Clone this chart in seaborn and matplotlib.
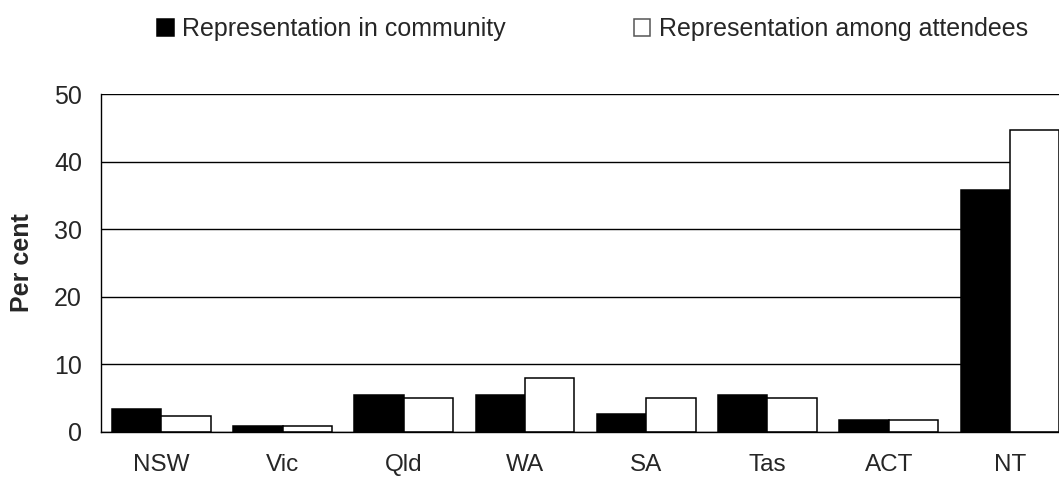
import matplotlib
matplotlib.use("Agg")
import matplotlib.pyplot as plt
import seaborn as sns
import pandas as pd
import numpy as np

# Share of each state/territory, per cent
states = ["NSW", "Vic", "Qld", "WA", "SA", "Tas", "ACT", "NT"]
community = [3.3, 0.9, 5.4, 5.4, 2.7, 5.4, 1.8, 35.8]
attendees = [2.4, 0.9, 5.0, 8.0, 5.0, 5.0, 1.8, 44.7]
series_names = ["Representation in community", "Representation among attendees"]
y_ticks = [0, 10, 20, 30, 40, 50]

df = pd.DataFrame({
    "state": states * 2,
    "series": [series_names[0]] * len(states) + [series_names[1]] * len(states),
    "value": community + attendees,
})

sns.set_style("white")
plt.rcParams["font.family"] = ["Liberation Sans", "DejaVu Sans"]

fig = plt.figure(figsize=(10.59, 4.79), dpi=100)
ax = fig.add_axes([0.0951, 0.0987, 0.9158, 0.7043])

sns.barplot(
    data=df, x="state", y="value", hue="series", order=states,
    hue_order=series_names, palette=["black", "white"],
    edgecolor="black", linewidth=1.1, width=0.815, dodge=True,
    ax=ax, legend=True,
)

ax.set_ylim(0, 50)
ax.set_xlim(-0.5, len(states) - 0.5)
ax.set_yticks(y_ticks)
ax.set_yticklabels([str(v) for v in y_ticks], fontsize=18)
ax.set_xlabel("")
ax.set_ylabel("")

# horizontal gridlines behind the bars
ax.set_axisbelow(True)
ax.yaxis.grid(True, color="black", linewidth=1)
ax.xaxis.grid(False)

for side in ["top", "right"]:
    ax.spines[side].set_visible(False)
for side in ["left", "bottom"]:
    ax.spines[side].set_color("black")
    ax.spines[side].set_linewidth(1)

ax.tick_params(axis="y", which="major", direction="out", length=4.5,
               width=1, color="black", pad=9, labelsize=18)
# category labels without ticks, tick marks between categories
ax.set_xticks(range(len(states)))
ax.set_xticklabels(states, fontsize=17.5)
ax.set_xticks(np.arange(-0.5, len(states), 1.0), minor=True)
ax.tick_params(axis="x", which="major", length=0, pad=16)
ax.tick_params(axis="x", which="minor", direction="out", length=5.5,
               width=1, color="black")

fig.text(22 / 1059, 1 - 263 / 479, "Per cent", rotation=90, ha="center",
         va="center", fontsize=18, fontweight="bold")

handles, labels = ax.get_legend_handles_labels()
ax.get_legend().remove()
leg = fig.legend(
    handles, labels, loc="center left",
    bbox_to_anchor=(157 / 1059, 1 - 29 / 479),
    ncol=2, frameon=False, fontsize=18,
    handlelength=0.66, handleheight=0.66, handletextpad=0.36,
    columnspacing=5.1, borderpad=0, borderaxespad=0,
)
leg.legend_handles[1].set_edgecolor("#555555")

fig.savefig("out.png", dpi=100)
